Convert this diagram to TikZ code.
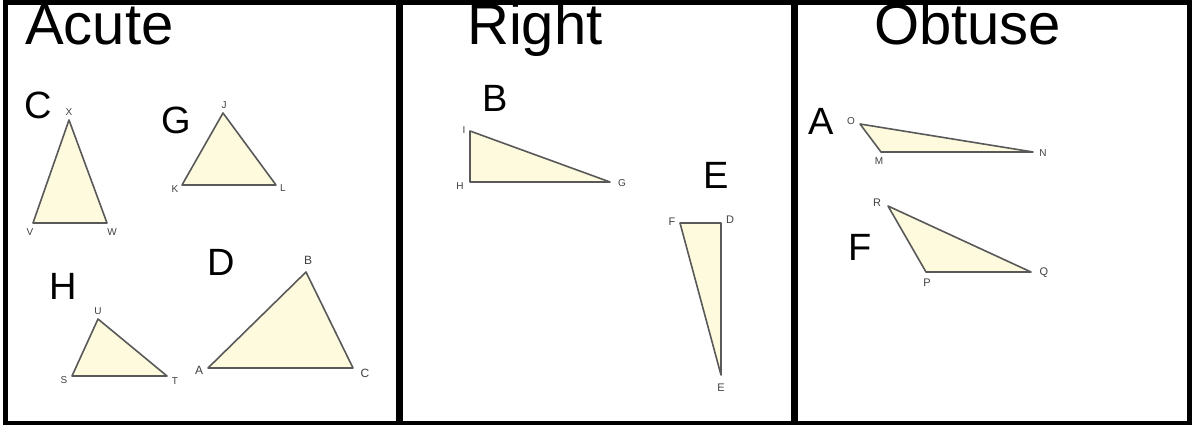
\documentclass[tikz,border=0pt]{standalone}
\usepackage{fontspec}
\setmainfont{Liberation Sans}
\begin{document}
\begin{tikzpicture}[x=1pt,y=-1pt,
  title/.style={font=\fontsize{58}{58}\selectfont, anchor=base west, inner sep=0pt},
  tag/.style={font=\fontsize{38}{38}\selectfont, anchor=base west, inner sep=0pt},
  vlab/.style={font=\fontsize{10}{10}\selectfont, text=black!75, inner sep=0pt},
  tri/.style={fill={rgb,255:red,253;green,250;blue,222}, draw=black!65, line width=1.6pt, line join=round},
  frame/.style={line width=5pt},
  divider/.style={line width=7pt}]
\useasboundingbox (0,0) rectangle (1193,425);
% titles
\node[title] (tacute) at (25,45) {Acute};
\node[title] (tright) at (467,45) {Right};
\node[title] (tobtuse) at (874,45) {Obtuse};
% frame
\draw[frame] (5,2.5) rectangle (1189.5,423);
\draw[divider] (399.5,0) -- (399.5,425);
\draw[divider] (794.5,0) -- (794.5,425);
% tags
\node[tag] (tagC) at (24,118) {C};
\node[tag] (tagG) at (161,133) {G};
\node[tag] (tagH) at (49,299) {H};
\node[tag] (tagD) at (207,275) {D};
\node[tag] (tagB) at (482,112) {B};
\node[tag] (tagE) at (703,188) {E};
\node[tag] (tagA) at (808,135) {A};
\node[tag] (tagF) at (848,260) {F};
% triangle C: XVW
\coordinate (X) at (69,120); \coordinate (V) at (33,223); \coordinate (W) at (107,223);
\draw[tri] (X) -- (V) -- (W) -- cycle;
\node[vlab] (lX) at (69,112) {X};
\node[vlab] (lV) at (30,232) {V};
\node[vlab] (lW) at (112,232) {W};
% triangle G: JKL
\coordinate (J) at (223,113); \coordinate (K) at (182,185); \coordinate (L) at (276,185);
\draw[tri] (J) -- (K) -- (L) -- cycle;
\node[vlab] (lJ) at (224,105) {J};
\node[vlab] (lK) at (175,189) {K};
\node[vlab] (lL) at (283,188) {L};
% triangle H: UST
\coordinate (U) at (98,319); \coordinate (S) at (72,376); \coordinate (T) at (167,376);
\draw[tri] (U) -- (S) -- (T) -- cycle;
\node[vlab] (lU) at (98,311) {U};
\node[vlab] (lS) at (64,380) {S};
\node[vlab] (lT) at (175,381) {T};
% triangle D: BAC
\coordinate (Bv) at (306,272); \coordinate (Av) at (208,368); \coordinate (Cv) at (353,368);
\draw[tri] (Bv) -- (Av) -- (Cv) -- cycle;
\node[vlab, font=\fontsize{12}{12}\selectfont] (lB) at (308,260) {B};
\node[vlab, font=\fontsize{12}{12}\selectfont] (lA) at (199,370) {A};
\node[vlab, font=\fontsize{12}{12}\selectfont] (lC) at (365,373) {C};
% triangle B: IHG
\coordinate (I) at (470,131); \coordinate (Hv) at (470,182); \coordinate (Gv) at (610,182);
\draw[tri] (I) -- (Hv) -- (Gv) -- cycle;
\node[vlab] (lI) at (464,130) {I};
\node[vlab] (lH) at (460,186) {H};
\node[vlab] (lG) at (622,183) {G};
% triangle E: FDE
\coordinate (Fv) at (680,223); \coordinate (Dv) at (721,223); \coordinate (Ev) at (721,375);
\draw[tri] (Fv) -- (Dv) -- (Ev) -- cycle;
\node[vlab, font=\fontsize{11}{11}\selectfont] (lF) at (672,222) {F};
\node[vlab, font=\fontsize{11}{11}\selectfont] (lD) at (730,220) {D};
\node[vlab, font=\fontsize{11}{11}\selectfont] (lE) at (721,388) {E};
% triangle A: OMN
\coordinate (O) at (860,124); \coordinate (M) at (881,152); \coordinate (N) at (1033,152);
\draw[tri] (O) -- (M) -- (N) -- cycle;
\node[vlab] (lO) at (851,121) {O};
\node[vlab] (lM) at (879,161) {M};
\node[vlab] (lN) at (1043,153) {N};
% triangle F: RPQ
\coordinate (R) at (888,206); \coordinate (P) at (926,272); \coordinate (Q) at (1031,272);
\draw[tri] (R) -- (P) -- (Q) -- cycle;
\node[vlab, font=\fontsize{11}{11}\selectfont] (lR) at (877,203) {R};
\node[vlab, font=\fontsize{11}{11}\selectfont] (lP) at (927,283) {P};
\node[vlab, font=\fontsize{11}{11}\selectfont] (lQ) at (1044,273) {Q};
\end{tikzpicture}
\end{document}
